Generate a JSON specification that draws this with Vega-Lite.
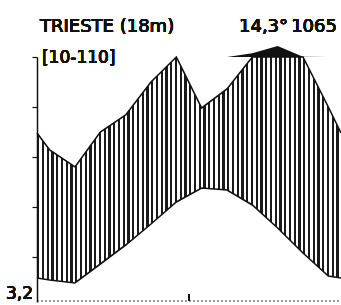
{
  "$schema": "https://vega.github.io/schema/vega-lite/v6.json",
  "autosize": {"type": "none"},
  "padding": {"left": 37, "top": 57, "right": 0, "bottom": 3},
  "width": 304,
  "height": 245,
  "background": "white",
  "config": {"view": {"stroke": null}},
  "data": {"values": [
    {"m": 0, "T": 5.8, "P": 69.6},
    {"m": 0.5, "T": 5.4, "P": 62.8},
    {"m": 1.5, "T": 4.8, "P": 56},
    {"m": 2.5, "T": 8.6, "P": 70},
    {"m": 3.5, "T": 12.4, "P": 76.8},
    {"m": 4.5, "T": 16.6, "P": 90},
    {"m": 5.5, "T": 21, "P": 100},
    {"m": 6.5, "T": 23.8, "P": 79.6},
    {"m": 7.5, "T": 23.4, "P": 87.2},
    {"m": 8.5, "T": 20.4, "P": 115},
    {"m": 9.5, "T": 15.8, "P": 144},
    {"m": 10.5, "T": 10.8, "P": 101},
    {"m": 11.5, "T": 6.2, "P": 80},
    {"m": 12, "T": 5.8, "P": 69.6}
  ]},
  "resolve": {"scale": {"y": "independent"}},
  "layer": [
    {
      "mark": {"type": "area", "fill": {"gradient": "linear", "x1": 0, "y1": 0, "x2": 1, "y2": 0, "stops": [
        {"offset":0,"color":"#1a1a1a"},{"offset":0.0075,"color":"#1a1a1a"},{"offset":0.0075,"color":"#fff"},{"offset":0.0156,"color":"#fff"},
        {"offset":0.0156,"color":"#1a1a1a"},{"offset":0.0231,"color":"#1a1a1a"},{"offset":0.0231,"color":"#fff"},{"offset":0.0313,"color":"#fff"},
        {"offset":0.0313,"color":"#1a1a1a"},{"offset":0.0388,"color":"#1a1a1a"},{"offset":0.0388,"color":"#fff"},{"offset":0.0469,"color":"#fff"},
        {"offset":0.0469,"color":"#1a1a1a"},{"offset":0.0544,"color":"#1a1a1a"},{"offset":0.0544,"color":"#fff"},{"offset":0.0625,"color":"#fff"},
        {"offset":0.0625,"color":"#1a1a1a"},{"offset":0.07,"color":"#1a1a1a"},{"offset":0.07,"color":"#fff"},{"offset":0.0781,"color":"#fff"},
        {"offset":0.0781,"color":"#1a1a1a"},{"offset":0.0856,"color":"#1a1a1a"},{"offset":0.0856,"color":"#fff"},{"offset":0.0938,"color":"#fff"},
        {"offset":0.0938,"color":"#1a1a1a"},{"offset":0.1013,"color":"#1a1a1a"},{"offset":0.1013,"color":"#fff"},{"offset":0.1094,"color":"#fff"},
        {"offset":0.1094,"color":"#1a1a1a"},{"offset":0.1169,"color":"#1a1a1a"},{"offset":0.1169,"color":"#fff"},{"offset":0.125,"color":"#fff"},
        {"offset":0.125,"color":"#1a1a1a"},{"offset":0.1325,"color":"#1a1a1a"},{"offset":0.1325,"color":"#fff"},{"offset":0.1406,"color":"#fff"},
        {"offset":0.1406,"color":"#1a1a1a"},{"offset":0.1481,"color":"#1a1a1a"},{"offset":0.1481,"color":"#fff"},{"offset":0.1563,"color":"#fff"},
        {"offset":0.1563,"color":"#1a1a1a"},{"offset":0.1638,"color":"#1a1a1a"},{"offset":0.1638,"color":"#fff"},{"offset":0.1719,"color":"#fff"},
        {"offset":0.1719,"color":"#1a1a1a"},{"offset":0.1794,"color":"#1a1a1a"},{"offset":0.1794,"color":"#fff"},{"offset":0.1875,"color":"#fff"},
        {"offset":0.1875,"color":"#1a1a1a"},{"offset":0.195,"color":"#1a1a1a"},{"offset":0.195,"color":"#fff"},{"offset":0.2031,"color":"#fff"},
        {"offset":0.2031,"color":"#1a1a1a"},{"offset":0.2106,"color":"#1a1a1a"},{"offset":0.2106,"color":"#fff"},{"offset":0.2188,"color":"#fff"},
        {"offset":0.2188,"color":"#1a1a1a"},{"offset":0.2263,"color":"#1a1a1a"},{"offset":0.2263,"color":"#fff"},{"offset":0.2344,"color":"#fff"},
        {"offset":0.2344,"color":"#1a1a1a"},{"offset":0.2419,"color":"#1a1a1a"},{"offset":0.2419,"color":"#fff"},{"offset":0.25,"color":"#fff"},
        {"offset":0.25,"color":"#1a1a1a"},{"offset":0.2575,"color":"#1a1a1a"},{"offset":0.2575,"color":"#fff"},{"offset":0.2656,"color":"#fff"},
        {"offset":0.2656,"color":"#1a1a1a"},{"offset":0.2731,"color":"#1a1a1a"},{"offset":0.2731,"color":"#fff"},{"offset":0.2813,"color":"#fff"},
        {"offset":0.2813,"color":"#1a1a1a"},{"offset":0.2888,"color":"#1a1a1a"},{"offset":0.2888,"color":"#fff"},{"offset":0.2969,"color":"#fff"},
        {"offset":0.2969,"color":"#1a1a1a"},{"offset":0.3044,"color":"#1a1a1a"},{"offset":0.3044,"color":"#fff"},{"offset":0.3125,"color":"#fff"},
        {"offset":0.3125,"color":"#1a1a1a"},{"offset":0.32,"color":"#1a1a1a"},{"offset":0.32,"color":"#fff"},{"offset":0.3281,"color":"#fff"},
        {"offset":0.3281,"color":"#1a1a1a"},{"offset":0.3356,"color":"#1a1a1a"},{"offset":0.3356,"color":"#fff"},{"offset":0.3438,"color":"#fff"},
        {"offset":0.3438,"color":"#1a1a1a"},{"offset":0.3513,"color":"#1a1a1a"},{"offset":0.3513,"color":"#fff"},{"offset":0.3594,"color":"#fff"},
        {"offset":0.3594,"color":"#1a1a1a"},{"offset":0.3669,"color":"#1a1a1a"},{"offset":0.3669,"color":"#fff"},{"offset":0.375,"color":"#fff"},
        {"offset":0.375,"color":"#1a1a1a"},{"offset":0.3825,"color":"#1a1a1a"},{"offset":0.3825,"color":"#fff"},{"offset":0.3906,"color":"#fff"},
        {"offset":0.3906,"color":"#1a1a1a"},{"offset":0.3981,"color":"#1a1a1a"},{"offset":0.3981,"color":"#fff"},{"offset":0.4063,"color":"#fff"},
        {"offset":0.4063,"color":"#1a1a1a"},{"offset":0.4138,"color":"#1a1a1a"},{"offset":0.4138,"color":"#fff"},{"offset":0.4219,"color":"#fff"},
        {"offset":0.4219,"color":"#1a1a1a"},{"offset":0.4294,"color":"#1a1a1a"},{"offset":0.4294,"color":"#fff"},{"offset":0.4375,"color":"#fff"},
        {"offset":0.4375,"color":"#1a1a1a"},{"offset":0.445,"color":"#1a1a1a"},{"offset":0.445,"color":"#fff"},{"offset":0.4531,"color":"#fff"},
        {"offset":0.4531,"color":"#1a1a1a"},{"offset":0.4606,"color":"#1a1a1a"},{"offset":0.4606,"color":"#fff"},{"offset":0.4688,"color":"#fff"},
        {"offset":0.4688,"color":"#1a1a1a"},{"offset":0.4763,"color":"#1a1a1a"},{"offset":0.4763,"color":"#fff"},{"offset":0.4844,"color":"#fff"},
        {"offset":0.4844,"color":"#1a1a1a"},{"offset":0.4919,"color":"#1a1a1a"},{"offset":0.4919,"color":"#fff"},{"offset":0.5,"color":"#fff"},
        {"offset":0.5,"color":"#1a1a1a"},{"offset":0.5075,"color":"#1a1a1a"},{"offset":0.5075,"color":"#fff"},{"offset":0.5156,"color":"#fff"},
        {"offset":0.5156,"color":"#1a1a1a"},{"offset":0.5231,"color":"#1a1a1a"},{"offset":0.5231,"color":"#fff"},{"offset":0.5313,"color":"#fff"},
        {"offset":0.5313,"color":"#1a1a1a"},{"offset":0.5388,"color":"#1a1a1a"},{"offset":0.5388,"color":"#fff"},{"offset":0.5469,"color":"#fff"},
        {"offset":0.5469,"color":"#1a1a1a"},{"offset":0.5544,"color":"#1a1a1a"},{"offset":0.5544,"color":"#fff"},{"offset":0.5625,"color":"#fff"},
        {"offset":0.5625,"color":"#1a1a1a"},{"offset":0.57,"color":"#1a1a1a"},{"offset":0.57,"color":"#fff"},{"offset":0.5781,"color":"#fff"},
        {"offset":0.5781,"color":"#1a1a1a"},{"offset":0.5856,"color":"#1a1a1a"},{"offset":0.5856,"color":"#fff"},{"offset":0.5938,"color":"#fff"},
        {"offset":0.5938,"color":"#1a1a1a"},{"offset":0.6013,"color":"#1a1a1a"},{"offset":0.6013,"color":"#fff"},{"offset":0.6094,"color":"#fff"},
        {"offset":0.6094,"color":"#1a1a1a"},{"offset":0.6169,"color":"#1a1a1a"},{"offset":0.6169,"color":"#fff"},{"offset":0.625,"color":"#fff"},
        {"offset":0.625,"color":"#1a1a1a"},{"offset":0.6325,"color":"#1a1a1a"},{"offset":0.6325,"color":"#fff"},{"offset":0.6406,"color":"#fff"},
        {"offset":0.6406,"color":"#1a1a1a"},{"offset":0.6481,"color":"#1a1a1a"},{"offset":0.6481,"color":"#fff"},{"offset":0.6563,"color":"#fff"},
        {"offset":0.6563,"color":"#1a1a1a"},{"offset":0.6638,"color":"#1a1a1a"},{"offset":0.6638,"color":"#fff"},{"offset":0.6719,"color":"#fff"},
        {"offset":0.6719,"color":"#1a1a1a"},{"offset":0.6794,"color":"#1a1a1a"},{"offset":0.6794,"color":"#fff"},{"offset":0.6875,"color":"#fff"},
        {"offset":0.6875,"color":"#1a1a1a"},{"offset":0.695,"color":"#1a1a1a"},{"offset":0.695,"color":"#fff"},{"offset":0.7031,"color":"#fff"},
        {"offset":0.7031,"color":"#1a1a1a"},{"offset":0.7106,"color":"#1a1a1a"},{"offset":0.7106,"color":"#fff"},{"offset":0.7188,"color":"#fff"},
        {"offset":0.7188,"color":"#1a1a1a"},{"offset":0.7263,"color":"#1a1a1a"},{"offset":0.7263,"color":"#fff"},{"offset":0.7344,"color":"#fff"},
        {"offset":0.7344,"color":"#1a1a1a"},{"offset":0.7419,"color":"#1a1a1a"},{"offset":0.7419,"color":"#fff"},{"offset":0.75,"color":"#fff"},
        {"offset":0.75,"color":"#1a1a1a"},{"offset":0.7575,"color":"#1a1a1a"},{"offset":0.7575,"color":"#fff"},{"offset":0.7656,"color":"#fff"},
        {"offset":0.7656,"color":"#1a1a1a"},{"offset":0.7731,"color":"#1a1a1a"},{"offset":0.7731,"color":"#fff"},{"offset":0.7813,"color":"#fff"},
        {"offset":0.7813,"color":"#1a1a1a"},{"offset":0.7888,"color":"#1a1a1a"},{"offset":0.7888,"color":"#fff"},{"offset":0.7969,"color":"#fff"},
        {"offset":0.7969,"color":"#1a1a1a"},{"offset":0.8044,"color":"#1a1a1a"},{"offset":0.8044,"color":"#fff"},{"offset":0.8125,"color":"#fff"},
        {"offset":0.8125,"color":"#1a1a1a"},{"offset":0.82,"color":"#1a1a1a"},{"offset":0.82,"color":"#fff"},{"offset":0.8281,"color":"#fff"},
        {"offset":0.8281,"color":"#1a1a1a"},{"offset":0.8356,"color":"#1a1a1a"},{"offset":0.8356,"color":"#fff"},{"offset":0.8438,"color":"#fff"},
        {"offset":0.8438,"color":"#1a1a1a"},{"offset":0.8513,"color":"#1a1a1a"},{"offset":0.8513,"color":"#fff"},{"offset":0.8594,"color":"#fff"},
        {"offset":0.8594,"color":"#1a1a1a"},{"offset":0.8669,"color":"#1a1a1a"},{"offset":0.8669,"color":"#fff"},{"offset":0.875,"color":"#fff"},
        {"offset":0.875,"color":"#1a1a1a"},{"offset":0.8825,"color":"#1a1a1a"},{"offset":0.8825,"color":"#fff"},{"offset":0.8906,"color":"#fff"},
        {"offset":0.8906,"color":"#1a1a1a"},{"offset":0.8981,"color":"#1a1a1a"},{"offset":0.8981,"color":"#fff"},{"offset":0.9063,"color":"#fff"},
        {"offset":0.9063,"color":"#1a1a1a"},{"offset":0.9138,"color":"#1a1a1a"},{"offset":0.9138,"color":"#fff"},{"offset":0.9219,"color":"#fff"},
        {"offset":0.9219,"color":"#1a1a1a"},{"offset":0.9294,"color":"#1a1a1a"},{"offset":0.9294,"color":"#fff"},{"offset":0.9375,"color":"#fff"},
        {"offset":0.9375,"color":"#1a1a1a"},{"offset":0.945,"color":"#1a1a1a"},{"offset":0.945,"color":"#fff"},{"offset":0.9531,"color":"#fff"},
        {"offset":0.9531,"color":"#1a1a1a"},{"offset":0.9606,"color":"#1a1a1a"},{"offset":0.9606,"color":"#fff"},{"offset":0.9688,"color":"#fff"},
        {"offset":0.9688,"color":"#1a1a1a"},{"offset":0.9763,"color":"#1a1a1a"},{"offset":0.9763,"color":"#fff"},{"offset":0.9844,"color":"#fff"},
        {"offset":0.9844,"color":"#1a1a1a"},{"offset":0.9919,"color":"#1a1a1a"},{"offset":0.9919,"color":"#fff"},{"offset":1,"color":"#fff"}
      ]}},
      "encoding": {
        "x": {"field": "m", "type": "quantitative", "scale": {"domain": [0, 12], "nice": false, "zero": false}, "axis": null},
        "y": {"field": "P", "type": "quantitative", "scale": {"domain": [2, 100], "clamp": true, "nice": false, "zero": false}, "axis": null}
      }
    },
    {
      "mark": {"type": "area", "fill": "white"},
      "encoding": {
        "x": {"field": "m", "type": "quantitative", "axis": null},
        "y": {"field": "T", "type": "quantitative", "scale": {"domain": [1, 50], "nice": false, "zero": false},
              "axis": {"values": [10, 20, 30, 40, 50], "labels": false, "title": null, "grid": false, "zindex": 2,
                       "domainColor": "#111", "domainWidth": 1.5, "tickColor": "#111", "tickWidth": 1.2, "tickSize": 5}}
      }
    },
    {
      "mark": {"type": "area", "fill": "#111"},
      "encoding": {
        "x": {"field": "m", "type": "quantitative", "axis": null},
        "y": {"field": "P", "type": "quantitative", "scale": {"domain": [100, 300], "range": [0, -50], "clamp": true, "nice": false, "zero": false}, "axis": null},
        "y2": {"datum": 100}
      }
    },
    {
      "mark": {"type": "line", "stroke": "#111", "strokeWidth": 1.6},
      "encoding": {
        "x": {"field": "m", "type": "quantitative", "axis": null},
        "y": {"field": "P", "type": "quantitative", "scale": {"domain": [2, 100], "clamp": true, "nice": false, "zero": false}, "axis": null}
      }
    },
    {
      "mark": {"type": "line", "stroke": "#111", "strokeWidth": 1.6},
      "encoding": {
        "x": {"field": "m", "type": "quantitative", "axis": null},
        "y": {"field": "T", "type": "quantitative", "scale": {"domain": [1, 50], "nice": false, "zero": false}, "axis": null}
      }
    },
    {
      "mark": {"type": "rule", "stroke": "#999", "strokeWidth": 1.5, "strokeDash": [2, 2]},
      "encoding": {
        "x": {"datum": 0, "type": "quantitative", "axis": null},
        "x2": {"datum": 12},
        "y": {"datum": 1.2, "type": "quantitative", "scale": {"domain": [1, 50], "nice": false, "zero": false}, "axis": null}
      }
    },
    {
      "mark": {"type": "rule", "stroke": "#111", "strokeWidth": 1.5},
      "encoding": {
        "x": {"datum": 6, "type": "quantitative", "axis": null},
        "y": {"datum": 1.2, "type": "quantitative", "scale": {"domain": [1, 50], "nice": false, "zero": false}, "axis": null},
        "y2": {"datum": 2.6}
      }
    },
    {
      "mark": {"type": "text", "text": "TRIESTE (18m)", "align": "left", "baseline": "alphabetic", "font": "DejaVu Sans", "fontSize": 18, "fill": "#111"},
      "encoding": {
        "x": {"datum": 0.118, "type": "quantitative", "axis": null},
        "y": {"datum": 55, "type": "quantitative", "scale": {"domain": [1, 50], "nice": false, "zero": false}, "axis": null}
      }
    },
    {
      "mark": {"type": "text", "text": "14,3°", "align": "right", "baseline": "alphabetic", "font": "DejaVu Sans", "fontSize": 18, "fill": "#111"},
      "encoding": {
        "x": {"datum": 9.91, "type": "quantitative", "axis": null},
        "y": {"datum": 55, "type": "quantitative", "scale": {"domain": [1, 50], "nice": false, "zero": false}, "axis": null}
      }
    },
    {
      "mark": {"type": "text", "text": "1065", "align": "right", "baseline": "alphabetic", "font": "DejaVu Sans", "fontSize": 18, "fill": "#111"},
      "encoding": {
        "x": {"datum": 11.84, "type": "quantitative", "axis": null},
        "y": {"datum": 55, "type": "quantitative", "scale": {"domain": [1, 50], "nice": false, "zero": false}, "axis": null}
      }
    },
    {
      "mark": {"type": "text", "text": "[10-110]", "align": "left", "baseline": "alphabetic", "font": "DejaVu Sans", "fontSize": 17, "fill": "#111"},
      "encoding": {
        "x": {"datum": 0.197, "type": "quantitative", "axis": null},
        "y": {"datum": 48.8, "type": "quantitative", "scale": {"domain": [1, 50], "nice": false, "zero": false}, "axis": null}
      }
    },
    {
      "mark": {"type": "text", "text": "3,2", "align": "right", "baseline": "alphabetic", "font": "DejaVu Sans", "fontSize": 17, "fill": "#111"},
      "encoding": {
        "x": {"datum": -0.158, "type": "quantitative", "axis": null},
        "y": {"datum": 1.6, "type": "quantitative", "scale": {"domain": [1, 50], "nice": false, "zero": false}, "axis": null}
      }
    }
  ]
}
